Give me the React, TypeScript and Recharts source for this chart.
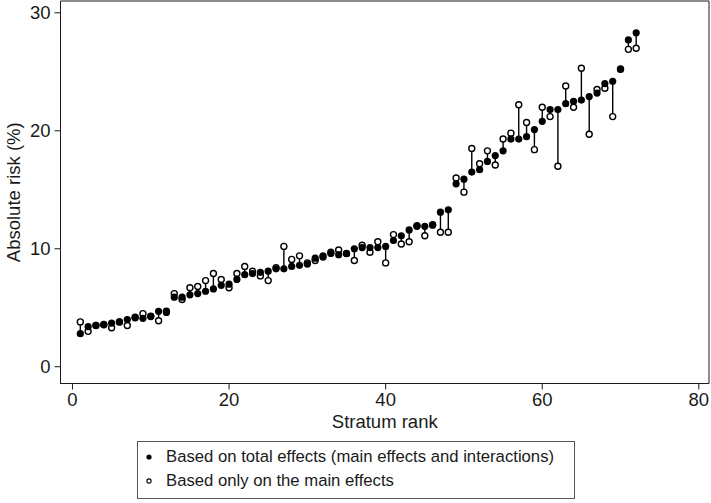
import React from 'react';
import { ComposedChart, Scatter, XAxis, YAxis, ErrorBar, ReferenceArea } from 'recharts';

// stratum ranks 1..72
const ranks = [
  1, 2, 3, 4, 5, 6, 7, 8, 9, 10, 11, 12, 13, 14, 15, 16, 17, 18, 19, 20, 21, 22, 23, 24,
  25, 26, 27, 28, 29, 30, 31, 32, 33, 34, 35, 36, 37, 38, 39, 40, 41, 42, 43, 44, 45, 46, 47, 48,
  49, 50, 51, 52, 53, 54, 55, 56, 57, 58, 59, 60, 61, 62, 63, 64, 65, 66, 67, 68, 69, 70, 71, 72,
];

// based on total effects (main effects and interactions)
const totalRisk = [
  2.8, 3.4, 3.5, 3.6, 3.7, 3.8, 4.0, 4.2, 4.1, 4.3, 4.7, 4.6, 5.9, 5.9, 6.1, 6.2, 6.4, 6.6, 6.9, 7.0, 7.4, 7.8, 7.9, 8.0,
  8.1, 8.3, 8.3, 8.5, 8.6, 8.7, 9.2, 9.4, 9.6, 9.5, 9.6, 10.0, 10.1, 10.1, 10.1, 10.2, 10.7, 11.1, 11.6, 11.9, 11.9, 12.0, 13.1, 13.3,
  15.5, 15.9, 16.5, 16.7, 17.4, 17.9, 18.3, 19.3, 19.3, 19.5, 20.1, 20.8, 21.8, 21.8, 22.3, 22.5, 22.6, 22.9, 23.2, 24.0, 24.2, 25.2, 27.7, 28.3,
];

// based only on the main effects
const mainRisk = [
  3.8, 3.0, 3.5, 3.55, 3.3, 3.8, 3.5, 4.15, 4.5, 4.25, 3.9, 4.7, 6.2, 5.7, 6.7, 6.8, 7.3, 7.9, 7.4, 6.7, 7.9, 8.5, 8.1, 7.7,
  7.3, 8.4, 10.2, 9.1, 9.4, 8.8, 9.0, 9.3, 9.7, 9.9, 9.6, 9.0, 10.3, 9.7, 10.6, 8.8, 11.2, 10.4, 10.6, 11.95, 11.1, 12.05, 11.4, 11.4,
  16.0, 14.8, 18.5, 17.2, 18.3, 17.1, 19.3, 19.8, 22.2, 20.7, 18.4, 22.0, 21.2, 17.0, 23.8, 22.0, 25.3, 19.7, 23.5, 23.6, 21.2, 25.25, 26.9, 27.0,
];

const xTicks = [0, 20, 40, 60, 80];
const yTicks = [0, 10, 20, 30];

const X_DOMAIN: [number, number] = [-1.53, 81.3];
const Y_DOMAIN: [number, number] = [-1.42, 31];

const table = ranks.map((r, i) => {
  const t = totalRisk[i];
  const m = mainRisk[i];
  return {
    rank: r,
    total: t,
    main: m,
    spike: t > m ? [0, t - m] : [m - t, 0],
  };
});

const FONT = '"Liberation Sans", Arial, sans-serif';
const INK = '#1a1a1a';
const AXIS_FONT = 18.5;

const HollowDot = (props: any) => (
  <circle cx={props.cx} cy={props.cy} r={3} fill="#fff" stroke="#000" strokeWidth={1.4} />
);
const FilledDot = (props: any) => <circle cx={props.cx} cy={props.cy} r={3.6} fill="#000" />;

const YTitle = (props: any) => {
  const vb = props.viewBox || { x: 0, y: 0, height: 0 };
  const cx = vb.x + 13;
  const cy = vb.y + vb.height / 2;
  return (
    <text
      x={cx}
      y={cy}
      transform={`rotate(-90 ${cx} ${cy})`}
      textAnchor="middle"
      dominantBaseline="central"
      fontSize={AXIS_FONT}
      fill={INK}
      fontFamily={FONT}
    >
      Absolute risk (%)
    </text>
  );
};

export default function App() {
  return (
    <div style={{ position: 'absolute', left: 0, top: 0, width: 711, height: 503, background: '#fff', fontFamily: FONT }}>
      <ComposedChart width={711} height={503} data={table} margin={{ top: 1, right: 2, left: 0, bottom: 79.5 }}>
        <XAxis
          dataKey="rank"
          type="number"
          domain={X_DOMAIN}
          ticks={xTicks}
          allowDataOverflow
          height={40}
          tickSize={6}
          tickMargin={3}
          stroke={INK}
          tick={{ fontSize: AXIS_FONT, fill: INK, fontFamily: FONT }}
          label={{ value: 'Stratum rank', position: 'insideBottom', offset: -4, fontSize: AXIS_FONT, fill: INK, fontFamily: FONT }}
        />
        <YAxis
          type="number"
          domain={Y_DOMAIN}
          ticks={yTicks}
          allowDataOverflow
          width={60.5}
          tickSize={6}
          tickMargin={4}
          stroke={INK}
          tick={{ fontSize: AXIS_FONT, fill: INK, fontFamily: FONT }}
          label={<YTitle />}
        />
        <ReferenceArea x1={X_DOMAIN[0]} x2={X_DOMAIN[1]} y1={Y_DOMAIN[0]} y2={Y_DOMAIN[1]} fill="none" stroke={INK} strokeWidth={1} />
        <Scatter dataKey="main" shape={HollowDot} isAnimationActive={false}>
          <ErrorBar dataKey="spike" direction="y" width={0} stroke="#000" strokeWidth={1.4} />
        </Scatter>
        <Scatter dataKey="total" shape={FilledDot} isAnimationActive={false} />
      </ComposedChart>
      <div
        style={{
          position: 'absolute',
          left: 137,
          top: 441,
          width: 438,
          height: 58,
          border: '1px solid #555',
          boxSizing: 'border-box',
          fontSize: 16.7,
          color: INK,
          lineHeight: '24px',
          paddingTop: 3,
        }}
      >
        <div style={{ display: 'flex', alignItems: 'center' }}>
          <svg width={28} height={24}>
            <circle cx={11} cy={12} r={2.6} fill="#000" />
          </svg>
          <span>Based on total effects (main effects and interactions)</span>
        </div>
        <div style={{ display: 'flex', alignItems: 'center' }}>
          <svg width={28} height={24}>
            <circle cx={11} cy={12} r={2.1} fill="#fff" stroke="#000" strokeWidth={1.1} />
          </svg>
          <span>Based only on the main effects</span>
        </div>
      </div>
    </div>
  );
}
